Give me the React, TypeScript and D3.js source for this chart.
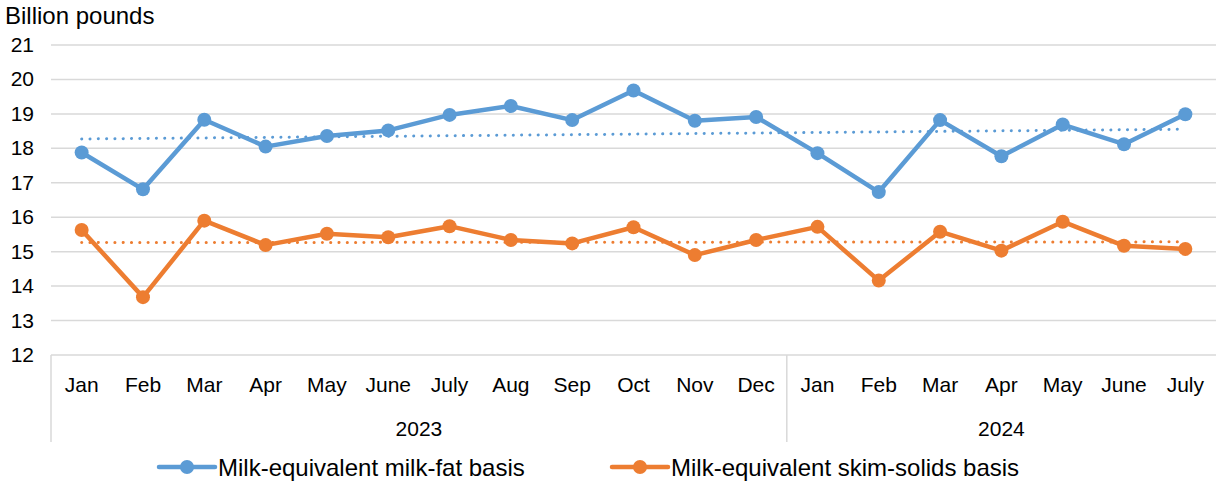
import React from "react";
import * as d3 from "d3";

// Monthly milk-equivalent totals, billion pounds
const months = [
  "Jan", "Feb", "Mar", "Apr", "May", "June", "July", "Aug", "Sep", "Oct", "Nov", "Dec",
  "Jan", "Feb", "Mar", "Apr", "May", "June", "July",
];
const years = [
  { label: "2023", start: 0, end: 12 },
  { label: "2024", start: 12, end: 19 },
];
const milkFat = [
  17.88, 16.81, 18.83, 18.05, 18.36, 18.52, 18.97, 19.23, 18.82, 19.68, 18.8, 18.91,
  17.86, 16.73, 18.82, 17.77, 18.69, 18.12, 18.99,
];
const skimSolids = [
  15.63, 13.68, 15.9, 15.19, 15.52, 15.42, 15.74, 15.34, 15.24, 15.71, 14.9, 15.34,
  15.72, 14.16, 15.58, 15.03, 15.87, 15.17, 15.08,
];
const yTicks = [12, 13, 14, 15, 16, 17, 18, 19, 20, 21];

const series = [
  { name: "Milk-equivalent milk-fat basis", values: milkFat, color: "#5B9BD5" },
  { name: "Milk-equivalent skim-solids basis", values: skimSolids, color: "#ED7D31" },
];

const W = 1216;
const H = 485;
const FONT = "'Liberation Sans', Arial, sans-serif";

function linearFit(vals: number[]) {
  const n = vals.length;
  const xs = vals.map((_, i) => i);
  const mx = d3.mean(xs)!;
  const my = d3.mean(vals)!;
  let num = 0;
  let den = 0;
  xs.forEach((x, i) => {
    num += (x - mx) * (vals[i] - my);
    den += (x - mx) * (x - mx);
  });
  const slope = num / den;
  const intercept = my - slope * mx;
  return [0, n - 1].map((i) => ({ i, v: intercept + slope * i }));
}

export default function App() {
  const x = d3
    .scaleBand<number>()
    .domain(months.map((_, i) => i))
    .range([51, 1216])
    .padding(0);
  const cx = (i: number) => (x(i) as number) + x.bandwidth() / 2;
  const y = d3.scaleLinear().domain([12, 21]).range([355, 45]);

  const line = d3
    .line<number>()
    .x((_, i) => cx(i))
    .y((d) => y(d));

  const fontSize = 21;
  const bigFont = 24;

  return (
    <svg
      width={W}
      height={H}
      style={{ position: "absolute", left: 0, top: 0, background: "#fff" }}
      fontFamily={FONT}
    >
      <text x={5} y={24} fontSize={bigFont} fill="#000">
        Billion pounds
      </text>

      {/* horizontal gridlines */}
      {yTicks.map((t) => (
        <g key={t}>
          <line x1={51} x2={1216} y1={y(t)} y2={y(t)} stroke="#D9D9D9" strokeWidth={1.5} />
          <text x={34} y={y(t) + 7} fontSize={fontSize} textAnchor="end" fill="#000">
            {t}
          </text>
        </g>
      ))}

      {/* category axis frame: left edge and year divider */}
      {[0, 12].map((i) => (
        <line
          key={i}
          x1={x(i) as number}
          x2={x(i) as number}
          y1={355}
          y2={442}
          stroke="#D9D9D9"
          strokeWidth={1.5}
        />
      ))}

      {months.map((m, i) => (
        <text key={i} x={cx(i)} y={392} fontSize={fontSize} textAnchor="middle" fill="#000">
          {m}
        </text>
      ))}
      {years.map((yr) => {
        const a = x(yr.start) as number;
        const b = yr.end >= months.length ? 1216 : (x(yr.end) as number);
        return (
          <text key={yr.label} x={(a + b) / 2} y={436} fontSize={fontSize} textAnchor="middle" fill="#000">
            {yr.label}
          </text>
        );
      })}

      {/* linear trendlines */}
      {series.map((s) => {
        const fit = linearFit(s.values);
        return (
          <line
            key={s.name + "-trend"}
            x1={cx(fit[0].i)}
            y1={y(fit[0].v)}
            x2={cx(fit[1].i)}
            y2={y(fit[1].v)}
            stroke={s.color}
            strokeWidth={3}
            strokeLinecap="round"
            strokeDasharray="0.1 8.2"
          />
        );
      })}

      {/* data lines with markers */}
      {series.map((s) => (
        <g key={s.name}>
          <path d={line(s.values) || ""} fill="none" stroke={s.color} strokeWidth={4.5} strokeLinejoin="round" />
          {s.values.map((v, i) => (
            <circle key={i} cx={cx(i)} cy={y(v)} r={7} fill={s.color} />
          ))}
        </g>
      ))}

      {/* legend */}
      {series.map((s, k) => {
        const lx = k === 0 ? 159 : 612;
        return (
          <g key={s.name + "-legend"}>
            <line x1={lx} x2={lx + 56} y1={467} y2={467} stroke={s.color} strokeWidth={4.5} strokeLinecap="round" />
            <circle cx={lx + 28} cy={467} r={7} fill={s.color} />
            <text x={lx + 59} y={475.5} fontSize={bigFont} fill="#000">
              {s.name}
            </text>
          </g>
        );
      })}
    </svg>
  );
}
